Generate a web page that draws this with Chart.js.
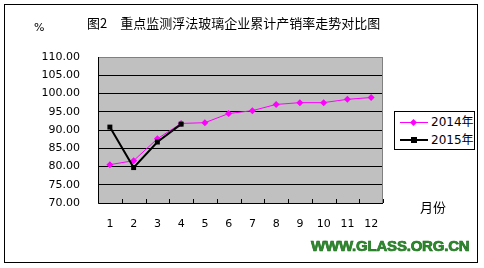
<!DOCTYPE html>
<html>
<head>
<meta charset="utf-8">
<script src="https://cdn.jsdelivr.net/npm/chart.js@4/dist/chart.umd.min.js"></script>
<style>
  html, body { margin: 0; padding: 0; background: #fff; }
  #wrap { position: relative; width: 484px; height: 268px; overflow: hidden; }
  #frame { position: absolute; left: 4px; top: 4px; width: 472px; height: 257px; border: 1px solid #000; }
  canvas { position: absolute; left: 0; top: 0; }
  .txt { position: absolute; font-family: "Noto Sans CJK SC", "DejaVu Sans", sans-serif; color: #000; white-space: nowrap; }
  #title { left: 87px; top: 13px; font-size: 13px; }
  #unit { left: 34px; top: 21px; font-size: 11px; font-family: "DejaVu Sans", sans-serif; }
  #xname { left: 420px; top: 197px; font-size: 13px; }
  #site { left: 311px; top: 237px; font-size: 15px; font-weight: bold; font-family: "Liberation Sans", Arial, sans-serif; color: #2e8b2e; letter-spacing: -0.2px; -webkit-text-stroke: 0.7px #1f6f1f; }
  #legend { position: absolute; left: 394px; top: 111px; width: 79px; height: 37px; border: 1px solid #000; background: #fff; }
  .row { position: absolute; left: 5px; width: 74px; height: 18px; font-family: "DejaVu Sans", "Noto Sans CJK SC", sans-serif; font-size: 12px; white-space: nowrap; }
  .row .ln { position: absolute; left: 0; width: 28px; }
  .row .mk { position: absolute; }
  .row span { position: absolute; left: 31px; top: 0; line-height: 18px; }
</style>
</head>
<body>
<div id="wrap">
  <div id="frame"></div>
  <canvas id="c" width="484" height="268"></canvas>
  <div class="txt" id="title">图2　重点监测浮法玻璃企业累计产销率走势对比图</div>
  <div class="txt" id="unit">%</div>
  <div class="txt" id="xname">月份</div>
  <div class="txt" id="site">WWW.GLASS.ORG.CN</div>
  <div id="legend"></div>
</div>
<script>
// months along the x axis
const months = ['1', '2', '3', '4', '5', '6', '7', '8', '9', '10', '11', '12'];
// cumulative production/sales ratio, %
const rate2014 = [80.5, 81.6, 87.6, 91.8, 92.0, 94.5, 95.3, 97.0, 97.5, 97.5, 98.4, 98.9];
const rate2015 = [90.8, 79.7, 86.7, 91.6, null, null, null, null, null, null, null, null];
const seriesNames = ['2014年', '2015年'];

const yMin = 70, yMax = 110, yStep = 5;

// gray plot fill + frame + the little inward ticks on the x axis
const plotDecor = {
    id: 'plotDecor',
    beforeDraw(chart) {
        const { ctx, chartArea: a } = chart;
        ctx.save();
        ctx.fillStyle = '#c0c0c0';
        ctx.fillRect(a.left, a.top, a.right - a.left, a.bottom - a.top);
        ctx.restore();
    },
    afterDraw(chart) {
        const { ctx, chartArea: a } = chart;
        ctx.save();
        ctx.strokeStyle = '#808080';
        ctx.lineWidth = 1;
        ctx.strokeRect(a.left + 0.5, a.top + 0.5, a.right - a.left - 1, a.bottom - a.top);
        ctx.strokeStyle = '#000';
        ctx.beginPath();
        ctx.moveTo(a.left + 0.5, a.top);
        ctx.lineTo(a.left + 0.5, a.bottom + 0.5);
        ctx.lineTo(a.right, a.bottom + 0.5);
        const w = (a.right - a.left) / months.length;
        for (let i = 1; i <= months.length; i++) {
            const x = Math.round(a.left + i * w) + 0.5;
            ctx.moveTo(x, a.bottom);
            ctx.lineTo(x, a.bottom - 4);
        }
        ctx.stroke();
        ctx.restore();
    }
};

const chart = new Chart(document.getElementById('c'), {
    type: 'line',
    data: {
        labels: months,
        datasets: [
            {
                label: seriesNames[0],
                data: rate2014,
                borderColor: '#ff00ff',
                backgroundColor: '#ff00ff',
                borderWidth: 1,
                pointStyle: 'rectRot',
                pointRadius: 3.5,
                pointBorderWidth: 0,
                tension: 0,
                order: 2
            },
            {
                label: seriesNames[1],
                data: rate2015,
                borderColor: '#000000',
                backgroundColor: '#000000',
                borderWidth: 2,
                pointStyle: 'rect',
                pointRadius: 3.5,
                pointBorderWidth: 0,
                tension: 0,
                spanGaps: false,
                order: 1
            }
        ]
    },
    options: {
        responsive: false,
        animation: false,
        layout: { padding: { left: 0, top: 57, right: 101, bottom: 0 } },
        plugins: { legend: { display: false }, tooltip: { enabled: false } },
        scales: {
            x: {
                offset: true,
                grid: { display: false },
                border: { display: false },
                ticks: { color: '#000', padding: 7, font: { family: 'DejaVu Sans', size: 11 } },
                afterFit(scale) { scale.height = 65; }
            },
            y: {
                min: yMin,
                max: yMax,
                grid: { color: '#000', lineWidth: 1, drawTicks: false },
                border: { display: false },
                ticks: {
                    stepSize: yStep,
                    color: '#000',
                    padding: 18,
                    font: { family: 'DejaVu Sans', size: 11 },
                    callback: v => v.toFixed(2)
                },
                afterFit(scale) { scale.width = 98; }
            }
        }
    },
    plugins: [plotDecor]
});

// legend box, built from the dataset styles
const legend = document.getElementById('legend');
chart.data.datasets.forEach((ds, i) => {
    const row = document.createElement('div');
    row.className = 'row';
    row.style.top = (1 + i * 18) + 'px';
    const ln = document.createElement('div');
    ln.className = 'ln';
    ln.style.borderTop = ds.borderWidth + 'px solid ' + ds.borderColor;
    ln.style.top = (9 - Math.floor(ds.borderWidth / 2)) + 'px';
    const mk = document.createElement('div');
    mk.className = 'mk';
    mk.style.background = ds.backgroundColor;
    if (ds.pointStyle === 'rectRot') {
        mk.style.width = '5px'; mk.style.height = '5px';
        mk.style.left = '11px'; mk.style.top = '7px';
        mk.style.transform = 'rotate(45deg)';
    } else {
        mk.style.width = '6px'; mk.style.height = '6px';
        mk.style.left = '11px'; mk.style.top = '6px';
    }
    const sp = document.createElement('span');
    sp.textContent = ds.label;
    row.appendChild(ln);
    row.appendChild(mk);
    row.appendChild(sp);
    legend.appendChild(row);
});
</script>
</body>
</html>
